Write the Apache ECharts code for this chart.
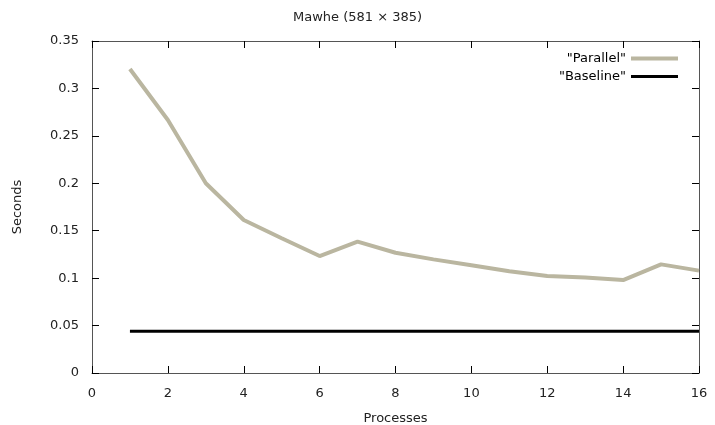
<!DOCTYPE html>
<html>
<head>
<meta charset="utf-8">
<script src="https://cdn.jsdelivr.net/npm/echarts@6/dist/echarts.min.js"></script>
<style>html,body{margin:0;padding:0;background:#fff}#c{width:715px;height:425px}</style>
</head>
<body>
<div id="c"></div>
<script>
const processes = [1,2,3,4,5,6,7,8,9,10,11,12,13,14,15,16];
const parallel = [0.3205,0.2667,0.2,0.1613,0.142,0.1233,0.1385,0.1268,0.1198,0.1135,0.1072,0.1022,0.1008,0.098,0.1145,0.1079];
const baselineX = [1,16];
const baselineY = [0.044,0.044];
const titleText = 'Mawhe (581 × 385)';

const chart = echarts.init(document.getElementById('c'), null, {renderer:'canvas'});
const font = 'DejaVu Sans';
const fs = 13;
const axisCommon = {
  axisLine:{show:true,onZero:false,lineStyle:{color:'#555',width:1}},
  axisTick:{show:true,inside:true,length:7,lineStyle:{color:'#000'}},
  splitLine:{show:false}
};
const legendCommon = {
  orient:'vertical',right:32,align:'right',itemWidth:47,
  textStyle:{fontFamily:font,fontSize:fs,color:'#000'}
};
chart.setOption({
  animation:false,
  title:{text:titleText,left:'center',top:6,textStyle:{fontFamily:font,fontSize:fs,fontWeight:'normal',color:'#222'}},
  grid:{left:92,right:16,top:41,bottom:52,outerBoundsMode:'none',containLabel:false},
  legend:[
    Object.assign({top:47,itemHeight:4,data:[{name:'"Parallel"',icon:'rect'}]},legendCommon),
    Object.assign({top:65,itemHeight:3,data:[{name:'"Baseline"',icon:'rect'}]},legendCommon)
  ],
  xAxis:[
    Object.assign({type:'value',min:0,max:16,interval:2,position:'bottom',
      name:'Processes',nameLocation:'middle',nameGap:39,
      nameTextStyle:{fontFamily:font,fontSize:fs,color:'#222'},
      axisLabel:{fontFamily:font,fontSize:fs,color:'#222',margin:14}},axisCommon),
    Object.assign({type:'value',min:0,max:16,interval:2,position:'top',axisLabel:{show:false}},axisCommon)
  ],
  yAxis:[
    Object.assign({type:'value',min:0,max:0.35,interval:0.05,position:'left',
      name:'Seconds',nameLocation:'middle',nameGap:68,nameRotate:90,
      nameTextStyle:{fontFamily:font,fontSize:fs,color:'#222'},
      axisLabel:{fontFamily:font,fontSize:fs,color:'#222',margin:13}},axisCommon),
    Object.assign({type:'value',min:0,max:0.35,interval:0.05,position:'right',axisLabel:{show:false}},axisCommon)
  ],
  series:[
    {name:'"Parallel"',type:'line',showSymbol:false,symbol:'none',
      data:processes.map((p,i)=>[p,parallel[i]]),
      lineStyle:{color:'#bab6a0',width:4},itemStyle:{color:'#bab6a0'}},
    {name:'"Baseline"',type:'line',showSymbol:false,symbol:'none',
      data:baselineX.map((p,i)=>[p,baselineY[i]]),
      lineStyle:{color:'#000',width:3},itemStyle:{color:'#000'}}
  ]
});
</script>
</body>
</html>
